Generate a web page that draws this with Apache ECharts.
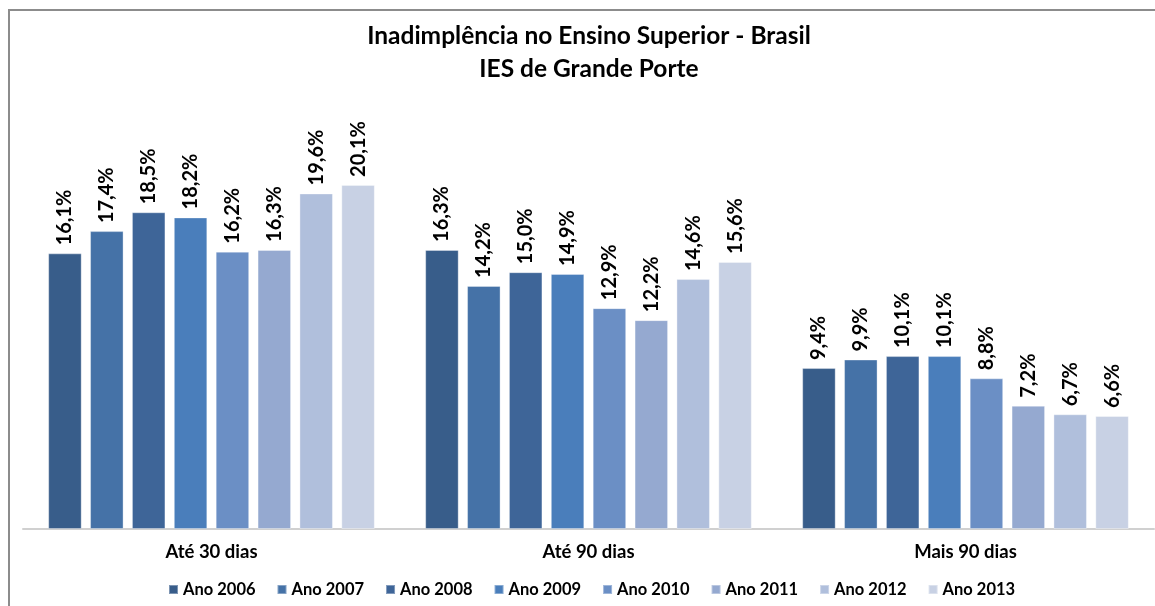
<!DOCTYPE html>
<html>
<head>
<meta charset="utf-8">
<script src="https://cdn.jsdelivr.net/npm/echarts@6/dist/echarts.min.js"></script>
<style>
html,body{margin:0;padding:0;background:#fff;}
#c{width:1155px;height:606px;}
</style>
</head>
<body>
<div id="c"></div>
<script>
const categories = ['Até 30 dias', 'Até 90 dias', 'Mais 90 dias'];
const seriesNames = ['Ano 2006','Ano 2007','Ano 2008','Ano 2009','Ano 2010','Ano 2011','Ano 2012','Ano 2013'];
const ano2006 = [16.1, 16.3, 9.4];
const ano2007 = [17.4, 14.2, 9.9];
const ano2008 = [18.5, 15.0, 10.1];
const ano2009 = [18.2, 14.9, 10.1];
const ano2010 = [16.2, 12.9, 8.8];
const ano2011 = [16.3, 12.2, 7.2];
const ano2012 = [19.6, 14.6, 6.7];
const ano2013 = [20.1, 15.6, 6.6];
const seriesValues = [ano2006, ano2007, ano2008, ano2009, ano2010, ano2011, ano2012, ano2013];
const colors = ['#385D8A','#4572A7','#3E6598','#4A7EBB','#6B8FC5','#95A9D0','#B0BFDC','#C8D1E4'];

const FONT = 'Lato';
const chart = echarts.init(document.getElementById('c'), null, {renderer: 'canvas'});
chart.setOption({
  animation: false,
  backgroundColor: '#fff',
  color: colors,
  title: {
    text: 'Inadimplência no Ensino Superior - Brasil\nIES de Grande Porte',
    left: 589, top: 20, padding: 0, textAlign: 'center',
    textStyle: {fontFamily: FONT, fontWeight: 'bold', fontSize: 24.5, lineHeight: 33, color: '#000'}
  },
  graphic: [{
    type: 'polyline', silent: true,
    shape: {points: [[9, 606], [9, 10], [1155, 10]]},
    style: {stroke: '#8c8c8c', lineWidth: 2, fill: null}
  }],
  legend: {
    data: seriesNames,
    bottom: 3, left: 163,
    icon: 'rect', itemWidth: 9, itemHeight: 9, itemGap: 21,
    textStyle: {fontFamily: FONT, fontWeight: 'bold', fontSize: 16.5, color: '#000'}
  },
  grid: {left: 23, right: 1, top: 101, bottom: 77, containLabel: false},
  xAxis: {
    type: 'category', data: categories,
    axisLine: {lineStyle: {color: '#d0d0d0', width: 2}},
    axisTick: {show: false},
    axisLabel: {fontFamily: FONT, fontWeight: 'bold', fontSize: 18.5, color: '#000', margin: 14}
  },
  yAxis: {type: 'value', min: 0, max: 25, show: false, splitLine: {show: false}},
  series: seriesNames.map((name, i) => ({
    name: name, type: 'bar', data: seriesValues[i],
    barWidth: 33.5, barGap: '25%',
    itemStyle: {color: colors[i], borderColor: 'rgba(255,255,255,0.35)', borderWidth: 1},
    label: {
      show: true, position: 'top', rotate: 90, align: 'left', verticalAlign: 'middle', distance: 8,
      fontFamily: FONT, fontWeight: 'bold', fontSize: 20, color: '#000',
      formatter: p => p.value.toFixed(1).replace('.', ',') + '%'
    }
  }))
});
</script>
</body>
</html>
